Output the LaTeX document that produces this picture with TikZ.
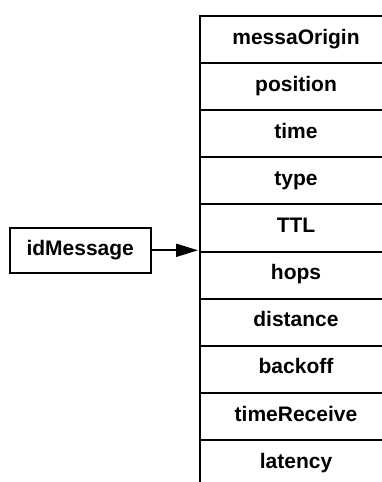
\documentclass[tikz,border=0pt]{standalone}
\usepackage{fontspec}
\setmainfont{Liberation Sans}
\usetikzlibrary{arrows.meta}
\begin{document}
\begin{tikzpicture}[x=1pt,y=-1pt,
  txt/.style={font=\fontsize{21}{25}\selectfont\bfseries, text height=14pt, text depth=4.6pt, inner sep=0pt},
  field/.style={txt, draw, line width=2pt, minimum width=192pt, minimum height=47.1pt},
  keybox/.style={txt, draw, line width=2pt, minimum width=141pt, minimum height=45pt},
  link/.style={line width=2pt, -{Triangle[length=22pt,width=13pt]}, shorten >=1pt}]
\useasboundingbox (0,0) rectangle (382,482);
\clip (0,0) rectangle (382,482);
\node[field] (r1) at (296,39.55) {messaOrigin};
\node[field] (r2) at (296,86.65) {position};
\node[field] (r3) at (296,133.75) {time};
\node[field] (r4) at (296,180.85) {type};
\node[field] (r5) at (296,227.95) {TTL};
\node[field] (r6) at (296,275.05) {hops};
\node[field] (r7) at (296,322.15) {distance};
\node[field] (r8) at (296,369.25) {backoff};
\node[field] (r9) at (296,416.35) {timeReceive};
\node[field] (r10) at (296,463.45) {latency};
\node[keybox] (id) at (80.2,250.3) {idMessage};
\draw[link] (id.east) -- (id.east -| r6.north west);
\end{tikzpicture}
\end{document}
